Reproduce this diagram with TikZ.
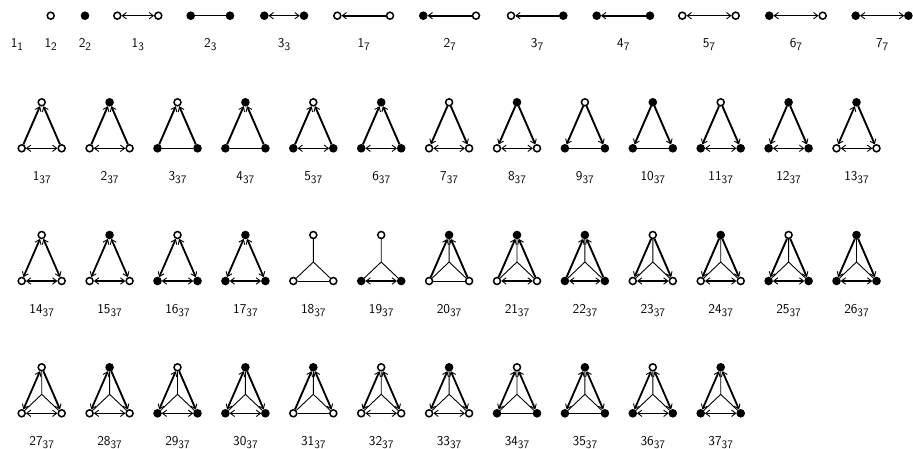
\documentclass[tikz,border=0pt]{standalone}
\usepackage{fontspec}
\usetikzlibrary{arrows.meta}
\newcommand\mysub[1]{\raisebox{-3.3pt}{\fontsize{11.5}{11.5}\selectfont #1}}
\tikzset{
  vo/.style={circle,draw=black,fill=white,line width=1.5pt,inner sep=0pt,minimum size=7pt},
  vf/.style={circle,draw=black,fill=black,line width=1.5pt,inner sep=0pt,minimum size=7pt},
  lab/.style={anchor=base,inner sep=0pt,font=\sffamily\fontsize{13.5}{13.5}\selectfont},
  din/.style={line width=1.9pt,->},
  dout/.style={line width=1.9pt,<-},
  dbi/.style={line width=1.8pt,<->},
  bbi/.style={line width=1.5pt,<->},
  tbi/.style={line width=1.1pt,<->},
  bpl/.style={line width=1pt},
  stl/.style={line width=0.9pt},
  nod/.style={draw=none},
}
\newcommand\tri[9]{%
  \node[#4] (T#1) at (#2,#3) {};
  \node[#5] (L#1) at (#2-20,#3+46) {};
  \node[#5] (R#1) at (#2+20,#3+46) {};
  \coordinate (C#1) at (#2,#3+27);
  \draw[#6] (L#1) -- (T#1);
  \draw[#7] (R#1) -- (T#1);
  \draw[#8] (L#1) -- (R#1);
  \draw[#9] (C#1) -- (T#1) (C#1) -- (L#1) (C#1) -- (R#1);
  \node[lab] (lab#1) at (#2,#3+78) {#1\mysub{37}};
}
\begin{document}
\begin{tikzpicture}[x=1pt,y=-1pt,>={Straight Barb[length=4.2pt,width=6.4pt,line width=0.9pt]}]
\useasboundingbox (0,0) rectangle (913,449);
% top row
\node[vo] (a12) at (50.7,15.7) {};
\node[vf] (a22) at (85,15.7) {};
\node[vo] (a13l) at (117.3,15.7) {}; \node[vo] (a13r) at (158.3,15.7) {};
\node[vf] (a23l) at (190.7,15.7) {}; \node[vf] (a23r) at (230,15.7) {};
\node[vf] (a33l) at (264.3,15.7) {}; \node[vf] (a33r) at (304,15.7) {};
\node[vo] (a17l) at (337.3,15.7) {}; \node[vo] (a17r) at (390,15.7) {};
\node[vf] (a27l) at (423.3,15.7) {}; \node[vo] (a27r) at (476,15.7) {};
\node[vo] (a37l) at (511,15.7) {}; \node[vf] (a37r) at (563.3,15.7) {};
\node[vf] (a47l) at (596.7,15.7) {}; \node[vf] (a47r) at (650,15.7) {};
\node[vo] (a57l) at (682.3,15.7) {}; \node[vo] (a57r) at (735.7,15.7) {};
\node[vf] (a67l) at (769.3,15.7) {}; \node[vo] (a67r) at (822.7,15.7) {};
\node[vf] (a77l) at (855.7,15.7) {}; \node[vf] (a77r) at (908.4,15.7) {};
\draw[tbi] (a13l) -- (a13r);
\draw[bpl] (a23l) -- (a23r);
\draw[tbi] (a33l) -- (a33r);
\draw[din] (a17r) -- (a17l);
\draw[din] (a27r) -- (a27l);
\draw[din] (a37r) -- (a37l);
\draw[din] (a47r) -- (a47l);
\draw[bbi] (a57l) -- (a57r);
\draw[bbi] (a67l) -- (a67r);
\draw[bbi] (a77l) -- (a77r);
\node[lab] (t11) at (17,47.5) {1\mysub{1}};
\node[lab] (t12) at (50.7,47.5) {1\mysub{2}};
\node[lab] (t22) at (85,47.5) {2\mysub{2}};
\node[lab] (t13) at (137.8,47.5) {1\mysub{3}};
\node[lab] (t23) at (210.3,47.5) {2\mysub{3}};
\node[lab] (t33) at (284.1,47.5) {3\mysub{3}};
\node[lab] (t17) at (363.7,47.5) {1\mysub{7}};
\node[lab] (t27) at (449.7,47.5) {2\mysub{7}};
\node[lab] (t37) at (537.1,47.5) {3\mysub{7}};
\node[lab] (t47) at (623.3,47.5) {4\mysub{7}};
\node[lab] (t57) at (709,47.5) {5\mysub{7}};
\node[lab] (t67) at (796,47.5) {6\mysub{7}};
\node[lab] (t77) at (882.2,47.5) {7\mysub{7}};
% row 2
\tri{1}{41.7}{102.3}{vo}{vo}{din}{din}{bbi}{nod}
\tri{2}{109.6}{102.3}{vf}{vo}{din}{din}{bbi}{nod}
\tri{3}{177.5}{102.3}{vo}{vf}{din}{din}{bpl}{nod}
\tri{4}{245.4}{102.3}{vf}{vf}{din}{din}{bpl}{nod}
\tri{5}{313.3}{102.3}{vo}{vf}{din}{din}{bbi}{nod}
\tri{6}{381.2}{102.3}{vf}{vf}{din}{din}{bbi}{nod}
\tri{7}{449.1}{102.3}{vo}{vo}{dout}{dout}{bbi}{nod}
\tri{8}{517.0}{102.3}{vf}{vo}{dout}{dout}{bbi}{nod}
\tri{9}{584.9}{102.3}{vo}{vf}{dout}{dout}{bpl}{nod}
\tri{10}{652.8}{102.3}{vf}{vf}{dout}{dout}{bpl}{nod}
\tri{11}{720.7}{102.3}{vo}{vf}{dout}{dout}{bbi}{nod}
\tri{12}{788.6}{102.3}{vf}{vf}{dout}{dout}{bbi}{nod}
\tri{13}{856.5}{102.3}{vf}{vo}{dbi}{dout}{bbi}{nod}
% row 3
\tri{14}{41.7}{235}{vo}{vo}{dbi}{dbi}{bbi}{nod}
\tri{15}{109.6}{235}{vf}{vo}{dbi}{dbi}{bbi}{nod}
\tri{16}{177.5}{235}{vo}{vf}{dbi}{dbi}{bbi}{nod}
\tri{17}{245.4}{235}{vf}{vf}{dbi}{dbi}{bbi}{nod}
\tri{18}{313.3}{235}{vo}{vo}{nod}{nod}{bpl}{stl}
\tri{19}{381.2}{235}{vo}{vf}{nod}{nod}{bbi}{stl}
\tri{20}{449.1}{235}{vf}{vo}{din}{din}{bpl}{stl}
\tri{21}{517.0}{235}{vf}{vo}{din}{din}{bbi}{stl}
\tri{22}{584.9}{235}{vf}{vf}{din}{din}{bbi}{stl}
\tri{23}{652.8}{235}{vo}{vo}{dout}{dout}{bbi}{stl}
\tri{24}{720.7}{235}{vf}{vo}{dout}{dout}{bbi}{stl}
\tri{25}{788.6}{235}{vo}{vf}{dout}{dout}{bbi}{stl}
\tri{26}{856.5}{235}{vf}{vf}{dout}{dout}{bbi}{stl}
% row 4
\tri{27}{41.7}{367.3}{vo}{vo}{dbi}{dout}{bbi}{stl}
\tri{28}{109.6}{367.3}{vf}{vo}{dbi}{dout}{bbi}{stl}
\tri{29}{177.5}{367.3}{vo}{vf}{dbi}{dout}{bbi}{stl}
\tri{30}{245.4}{367.3}{vf}{vf}{dbi}{dout}{bbi}{stl}
\tri{31}{313.3}{367.3}{vf}{vo}{din}{dbi}{bpl}{stl}
\tri{32}{381.2}{367.3}{vo}{vo}{dbi}{dbi}{bbi}{stl}
\tri{33}{449.1}{367.3}{vf}{vo}{dbi}{dbi}{bbi}{stl}
\tri{34}{517.0}{367.3}{vo}{vf}{dbi}{dbi}{bpl}{stl}
\tri{35}{584.9}{367.3}{vf}{vf}{dbi}{dbi}{bpl}{stl}
\tri{36}{652.8}{367.3}{vo}{vf}{dbi}{dbi}{bbi}{stl}
\tri{37}{720.7}{367.3}{vf}{vf}{dbi}{dbi}{bbi}{stl}
\end{tikzpicture}
\end{document}
